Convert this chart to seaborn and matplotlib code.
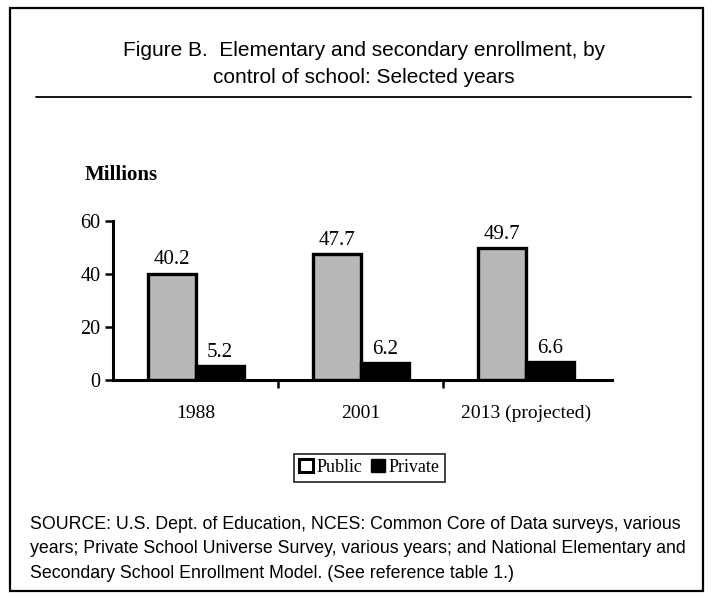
import matplotlib
matplotlib.use('Agg')
import matplotlib.pyplot as plt
import pandas as pd
import seaborn as sns
from matplotlib.patches import Patch, Rectangle
from matplotlib.lines import Line2D

# Data
years = ['1988', '2001', '2013 (projected)']
public = [40.2, 47.7, 49.7]
private = [5.2, 6.2, 6.6]

df = pd.DataFrame({
    'year': years * 2,
    'control': ['Public'] * 3 + ['Private'] * 3,
    'value': public + private,
})

sns.set_style('white')
plt.rcParams['text.color'] = 'black'
plt.rcParams['xtick.color'] = 'black'
plt.rcParams['ytick.color'] = 'black'
serif = ['Liberation Serif', 'DejaVu Serif']
sans = ['Liberation Sans', 'DejaVu Sans']

fig = plt.figure(figsize=(7.12, 5.98), dpi=100)
ax = fig.add_axes([0.159, 0.365, 0.700, 0.265])

sns.barplot(data=df, x='year', y='value', hue='control',
            palette={'Public': '#b8b8b8', 'Private': '#000000'},
            width=0.58, gap=0, edgecolor='black', linewidth=2.4,
            legend=False, ax=ax)

for cont in ax.containers:
    ax.bar_label(cont, fmt='%.1f', padding=3, fontsize=15, family=serif)

ax.set_ylim(0, 60)
ax.set_xlim(-0.5, 2.52)
ax.set_yticks([0, 20, 40, 60])
ax.set_xticks([0.5, 1.5], minor=True)
ax.tick_params(axis='y', which='major', direction='out', length=6, width=1.8, left=True,
               labelsize=14.5, pad=3)
ax.tick_params(axis='x', which='major', length=0, pad=18, labelsize=14)
ax.tick_params(axis='x', which='minor', direction='out', length=6, width=1.8, bottom=True)
for lab in ax.get_xticklabels() + ax.get_yticklabels():
    lab.set_family(serif)
ax.set_xlabel('')
ax.set_ylabel('')
for s in ['top', 'right']:
    ax.spines[s].set_visible(False)
for s in ['left', 'bottom']:
    ax.spines[s].set_linewidth(2.2)
    ax.spines[s].set_color('black')

# Millions label
fig.text(0.119, 0.708, 'Millions', fontsize=15, fontweight='bold', family=serif,
         ha='left', va='center')

# Title
fig.text(0.511, 0.915, 'Figure B.  Elementary and secondary enrollment, by',
         fontsize=15, family=sans, ha='center', va='center')
fig.text(0.511, 0.870, 'control of school: Selected years',
         fontsize=15, family=sans, ha='center', va='center')
fig.add_artist(Line2D([0.05, 0.97], [0.838, 0.838], color='black', lw=1.3,
                      transform=fig.transFigure))

# Legend
handles = [Patch(facecolor='white', edgecolor='black', linewidth=2.2, label='Public'),
           Patch(facecolor='black', edgecolor='black', label='Private')]
leg = fig.legend(handles=handles, loc='center', bbox_to_anchor=(0.519, 0.218), ncol=2,
                 frameon=True, fancybox=False, edgecolor='black', handlelength=0.75,
                 handleheight=0.75, handletextpad=0.2, columnspacing=0.5, borderpad=0.3,
                 prop={'family': serif, 'size': 13})
leg.get_frame().set_linewidth(1.3)

# Source note
src = ('SOURCE: U.S. Dept. of Education, NCES: Common Core of Data surveys, various\n'
       'years; Private School Universe Survey, various years; and National Elementary and\n'
       'Secondary School Enrollment Model. (See reference table 1.)')
fig.text(0.042, 0.082, src, fontsize=12.8, family=sans, ha='left', va='center',
         linespacing=1.55)

# Outer frame
fig.add_artist(Rectangle((0.014, 0.012), 0.974, 0.975, fill=False, edgecolor='black',
                         lw=1.6, transform=fig.transFigure))

fig.savefig('out.png', dpi=100)
